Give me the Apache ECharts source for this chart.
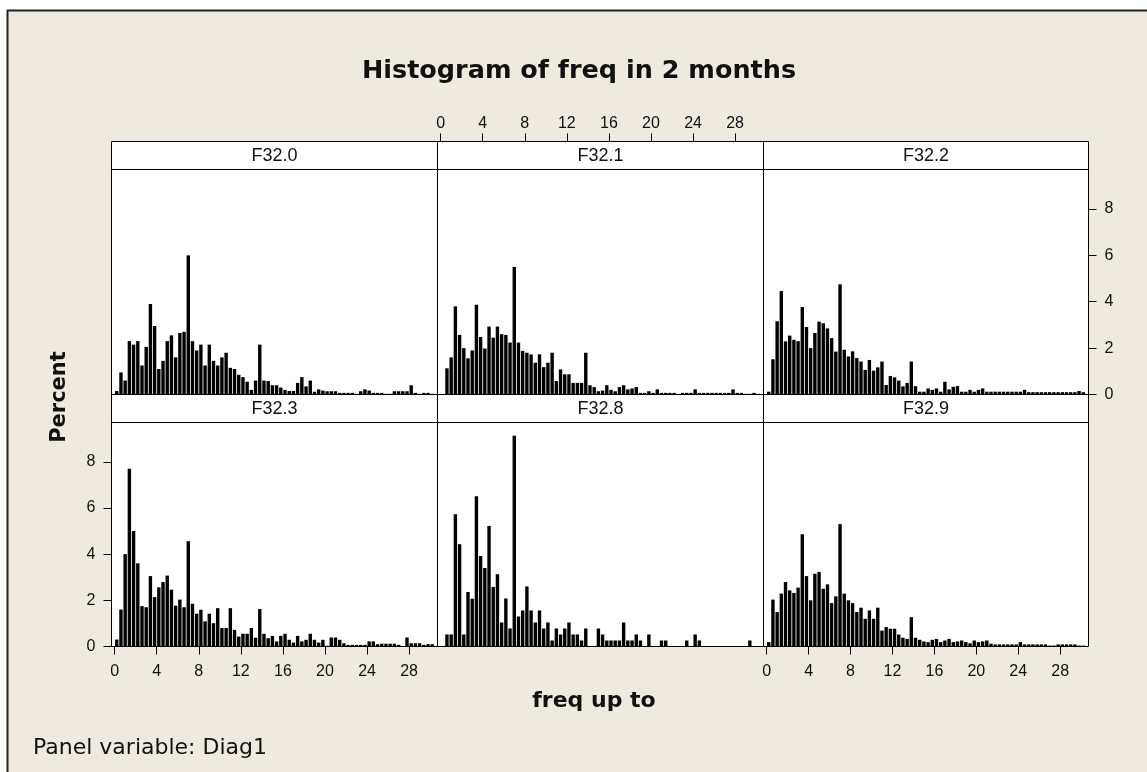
<!DOCTYPE html>
<html><head><meta charset="utf-8">
<script src="https://cdn.jsdelivr.net/npm/echarts@6/dist/echarts.min.js"></script>
<style>html,body{margin:0;padding:0;background:#fff}#c{width:1147px;height:772px}</style>
</head><body><div id="c"></div>
<script>
// ---- data (percent per bin, bins of width 0.4 starting at 0) ----
const binWidth = 0.4;
const panelNames = ['F32.0','F32.1','F32.2','F32.3','F32.8','F32.9'];
const f32_0 = [0.15,0.95,0.6,2.3,2.15,2.3,1.25,2.05,3.9,2.95, 1.1,1.45,2.3,2.55,1.6,2.65,2.7,6.0,2.3,1.9, 2.15,1.25,2.15,1.45,1.25,1.6,1.8,1.15,1.1,0.85, 0.75,0.55,0.2,0.6,2.15,0.6,0.58,0.4,0.4,0.3, 0.2,0.15,0.15,0.5,0.75,0.35,0.6,0.12,0.22,0.17, 0.14,0.14,0.14,0.07,0.07,0.07,0.07,0.03,0.14,0.22, 0.17,0.07,0.07,0.07,0.03,0.03,0.14,0.14,0.14,0.14, 0.4,0.07,0.03,0.07,0.07,0.03];
const f32_1 = [0,1.13,1.6,3.8,2.57,2.0,1.56,1.9,3.87,2.48, 1.98,2.93,2.45,2.93,2.6,2.57,2.24,5.5,2.24,1.88, 1.8,1.73,1.37,1.73,1.18,1.37,1.8,0.58,1.08,0.87, 0.87,0.5,0.5,0.5,1.8,0.4,0.32,0.14,0.17,0.4, 0.2,0.14,0.32,0.4,0.22,0.26,0.32,0.07,0.07,0.14, 0.07,0.22,0.07,0.07,0.07,0.07,0,0.07,0.07,0.07, 0.22,0.07,0.07,0.07,0.07,0.07,0.07,0.07,0.07,0.22, 0.07,0.07,0.03,0.03,0.07,0.03];
const f32_2 = [0.12,1.52,3.16,4.46,2.29,2.54,2.36,2.3,3.77,2.91, 2.0,2.65,3.14,3.07,2.85,2.43,1.85,4.75,1.93,1.64, 1.86,1.57,1.42,1.06,1.49,1.03,1.17,1.42,0.41,0.8, 0.74,0.6,0.35,0.5,1.42,0.36,0.12,0.12,0.26,0.2, 0.26,0.12,0.55,0.22,0.33,0.36,0.12,0.12,0.2,0.12, 0.2,0.26,0.12,0.12,0.12,0.12,0.12,0.12,0.12,0.12, 0.12,0.2,0.1,0.1,0.1,0.1,0.1,0.1,0.1,0.1, 0.1,0.1,0.1,0.1,0.15,0.1];
const f32_3 = [0.3,1.6,4.0,7.7,5.0,3.6,1.75,1.7,3.05,2.14, 2.56,2.79,3.07,2.46,1.77,2.03,1.7,4.56,1.85,1.42, 1.59,1.09,1.42,1.01,1.66,0.8,0.8,1.66,0.72,0.43, 0.55,0.55,0.8,0.38,1.62,0.55,0.36,0.46,0.22,0.46, 0.55,0.29,0.17,0.46,0.22,0.29,0.55,0.29,0.17,0.29, 0.03,0.39,0.39,0.29,0.14,0.07,0.07,0.07,0.07,0.07, 0.22,0.22,0.1,0.12,0.12,0.12,0.12,0.07,0,0.39, 0.14,0.14,0.14,0.07,0.1,0.1];
const f32_8 = [0,0.52,0.52,5.73,4.43,0.52,2.36,2.07,6.51,3.92, 3.4,5.22,2.58,3.13,1.04,2.08,0.78,9.13,1.3,1.56, 2.6,1.56,1.04,1.56,0.78,1.04,0.26,0.78,0.52,0.78, 1.04,0.52,0.52,0.26,0.78,0,0,0.78,0.52,0.26, 0.26,0.26,0.26,1.04,0.26,0.26,0.52,0.26,0,0.52, 0,0,0.26,0.26,0,0,0,0,0.26,0, 0.52,0.26,0,0,0,0,0,0,0,0, 0,0,0,0.26,0,0];
const f32_9 = [0.19,2.03,1.49,2.29,2.79,2.43,2.32,2.55,4.86,3.05, 2.0,3.15,3.23,2.5,2.69,1.88,2.17,5.3,2.29,2.0, 1.88,1.49,1.68,1.2,1.56,1.2,1.68,0.69,0.84,0.77, 0.77,0.52,0.38,0.33,1.27,0.38,0.29,0.22,0.19,0.29, 0.33,0.19,0.26,0.33,0.19,0.22,0.26,0.19,0.14,0.26, 0.19,0.22,0.26,0.12,0.09,0.09,0.09,0.09,0.09,0.09, 0.19,0.09,0.09,0.09,0.09,0.09,0.09,0.04,0.04,0.09, 0.09,0.09,0.09,0.09,0.04,0.04];
const xTicks = [0,4,8,12,16,20,24,28];
const yTicks = [0,2,4,6,8];
const titleText = 'Histogram of freq in 2 months';
const xTitle = 'freq up to';
const yTitle = 'Percent';
const footText = 'Panel variable: Diag1';

const panelData = [f32_0,f32_1,f32_2,f32_3,f32_8,f32_9];
// which axes carry labels in each panel (Minitab alternating layout)
const xAxisSide = [null,'top',null,'bottom',null,'bottom'];
const yAxisSide = [null,null,'right','left',null,null];

// ---- layout ----
const X_MIN = -0.3, X_MAX = 30.7, Y_MAX = 9.7;
const cols = [[111.5,326],[437.5,326],[763.5,325]];
const rows = [[169.5,225],[422.5,224]];
const STRIP = 28;
const FONT = "'Liberation Sans', Arial, sans-serif";
const BOLD = "'DejaVu Sans', sans-serif";
const TXT = '#111';

const grids=[], xAxes=[], yAxes=[], series=[];
const graphics = [
  {type:'rect', shape:{x:0,y:0,width:1147,height:10}, style:{fill:'#fff'}, silent:true},
  {type:'rect', shape:{x:0,y:0,width:7,height:772}, style:{fill:'#fff'}, silent:true},
  {type:'line', shape:{x1:7,y1:10.5,x2:1147,y2:10.5}, style:{stroke:'#222',lineWidth:2}, silent:true},
  {type:'line', shape:{x1:7.5,y1:10,x2:7.5,y2:772}, style:{stroke:'#222',lineWidth:2}, silent:true}
];
const center = {align:'center', verticalAlign:'middle', textAlign:'center', textVerticalAlign:'middle'};

panelNames.forEach((name,i)=>{
  const r = Math.floor(i/3), c = i%3;
  const [left,width] = cols[c];
  const [top,height] = rows[r];
  grids.push({left, top, width, height, show:true, backgroundColor:'#fff',
    borderColor:'#000', borderWidth:1, containLabel:false, outerBoundsMode:'none'});
  const xs = xAxisSide[i], ys = yAxisSide[i];
  xAxes.push({type:'value', gridIndex:i, min:X_MIN, max:X_MAX,
    position: xs==='top' ? 'top' : 'bottom', offset: xs==='top' ? STRIP : 0,
    axisLine:{show:false, onZero:false}, splitLine:{show:false},
    axisTick:{show:!!xs, length:8, customValues:xTicks, lineStyle:{color:'#000',width:1}},
    axisLabel:{show:!!xs, customValues:xTicks, margin: xs==='top' ? 10 : 17, color:TXT, fontSize:16, fontFamily:FONT}
  });
  yAxes.push({type:'value', gridIndex:i, min:0, max:Y_MAX,
    position: ys==='right' ? 'right' : 'left',
    axisLine:{show:false, onZero:false}, splitLine:{show:false},
    axisTick:{show:!!ys, length:8, customValues:yTicks, lineStyle:{color:'#000',width:1}},
    axisLabel:{show:!!ys, customValues:yTicks, margin:16, color:TXT, fontSize:16, fontFamily:FONT}
  });
  series.push({type:'bar', xAxisIndex:i, yAxisIndex:i, barWidth:3.4, silent:true,
    itemStyle:{color:'#000'},
    data: panelData[i].map((v,k)=>[binWidth*(k+0.5), v])
  });
  graphics.push({type:'rect', shape:{x:left, y:top-STRIP, width, height:STRIP},
    style:{fill:'#fff', stroke:'#000', lineWidth:1}, silent:true});
  graphics.push({type:'text', x:left+width/2, y:top-STRIP/2+1,
    style:Object.assign({text:name, fill:TXT, font:"18px "+FONT}, center), silent:true});
});

graphics.push({type:'text', x:579, y:71, style:Object.assign({text:titleText, fill:TXT, font:"bold 25.5px "+BOLD}, center)});
graphics.push({type:'text', x:594, y:701, style:Object.assign({text:xTitle, fill:TXT, font:"bold 22px "+BOLD}, center)});
graphics.push({type:'text', x:60, y:397, rotation:Math.PI/2, style:Object.assign({text:yTitle, fill:TXT, font:"bold 21px "+BOLD}, center)});
graphics.push({type:'text', x:33, y:748, style:{text:footText, fill:TXT, font:"22px "+BOLD, align:'left', verticalAlign:'middle', textAlign:'left', textVerticalAlign:'middle'}});

const chart = echarts.init(document.getElementById('c'), null, {renderer:'canvas'});
chart.setOption({
  animation:false,
  backgroundColor:'#EEEAE0',
  grid:grids, xAxis:xAxes, yAxis:yAxes, series,
  graphic:{elements:graphics}
});
</script></body></html>
